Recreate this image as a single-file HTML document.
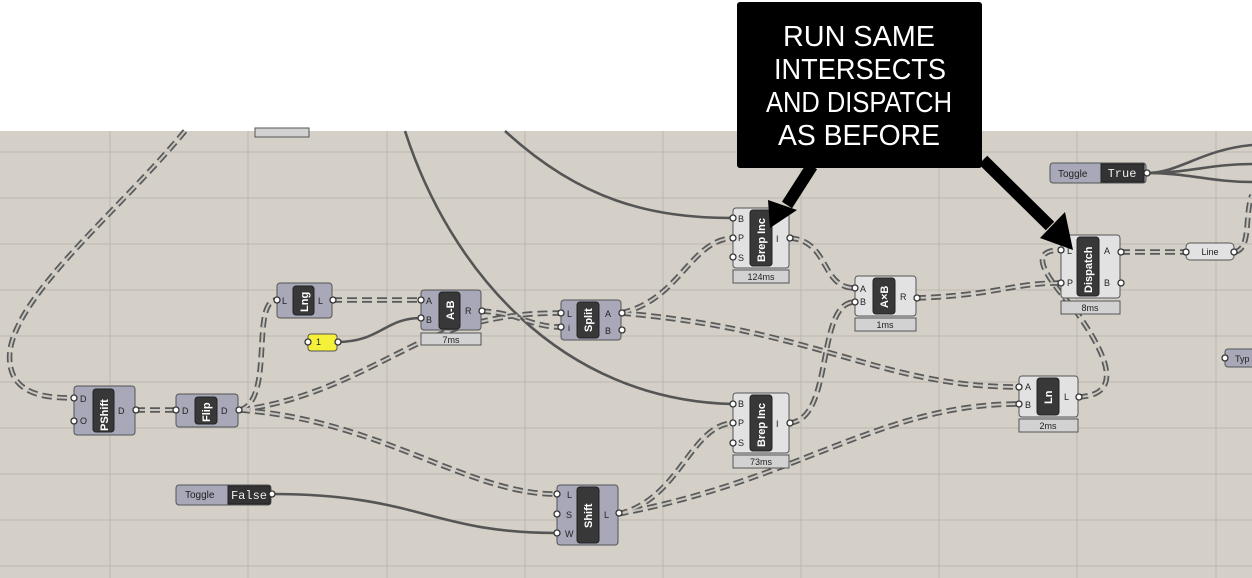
<!DOCTYPE html>
<html><head><meta charset="utf-8"><style>
html,body{margin:0;padding:0;background:#fff;}
svg{display:block;font-family:"Liberation Sans",sans-serif;}
.lbl{font-size:9px;fill:#222;}
.nm{font-size:11px;font-weight:bold;fill:#fff;}
.tm{font-size:9px;fill:#222;}
.dw{fill:none;stroke:#5a5a5a;stroke-width:5.5;stroke-dasharray:10 5;}
.dwi{fill:none;stroke:#c8c6c0;stroke-width:2;stroke-dasharray:10 5;}
.sw{fill:none;stroke:#555;stroke-width:2.6;}
.port{fill:#fff;stroke:#333;stroke-width:1.3;}
.cg{fill:#a8a8b8;stroke:#555;stroke-width:1;}
.cl{fill:#e2e2e2;stroke:#555;stroke-width:1;}
.bar{fill:#383838;stroke:#222;stroke-width:1;}
.tmr{fill:#d2d2d2;stroke:#555;stroke-width:1;}
</style></head><body>
<svg width="1252" height="578" viewBox="0 0 1252 578" xmlns="http://www.w3.org/2000/svg">
<rect x="0" y="0" width="1252" height="131" fill="#fff"/>
<rect x="0" y="131" width="1252" height="447" fill="#d4d0c8"/>
<g stroke="#bcb8b0" stroke-width="1">
<line x1="110" y1="131" x2="110" y2="578"/><line x1="248" y1="131" x2="248" y2="578"/><line x1="387" y1="131" x2="387" y2="578"/><line x1="525" y1="131" x2="525" y2="578"/><line x1="663" y1="131" x2="663" y2="578"/><line x1="801" y1="131" x2="801" y2="578"/><line x1="939" y1="131" x2="939" y2="578"/><line x1="1077" y1="131" x2="1077" y2="578"/><line x1="1216" y1="131" x2="1216" y2="578"/>
<line x1="0" y1="152" x2="1252" y2="152"/><line x1="0" y1="198" x2="1252" y2="198"/><line x1="0" y1="244" x2="1252" y2="244"/><line x1="0" y1="290" x2="1252" y2="290"/><line x1="0" y1="336" x2="1252" y2="336"/><line x1="0" y1="382" x2="1252" y2="382"/><line x1="0" y1="428" x2="1252" y2="428"/><line x1="0" y1="474" x2="1252" y2="474"/><line x1="0" y1="520" x2="1252" y2="520"/><line x1="0" y1="566" x2="1252" y2="566"/>
</g>
<rect x="255" y="128" width="54" height="9" class="tmr"/>

<path class="sw" d="M337,342 C380,342 385,318 421,318"/>
<path class="sw" d="M405,131 C450,270 560,400 733,404"/>
<path class="sw" d="M505,131 C580,200 650,218 733,218"/>
<path class="sw" d="M271,494 C420,494 430,533 557,533"/>
<path class="sw" d="M1146,173 C1180,173 1200,150 1252,145"/>
<path class="sw" d="M1146,173 C1190,173 1210,164 1252,164"/>
<path class="sw" d="M1146,173 C1190,173 1210,182 1252,182"/>

<g class="dw">
<path class="dw" d="M185,131 C120,210 20,290 10,350 C5,395 45,398 74,398"/>
<path class="dw" d="M135,410 L176,410"/>
<path class="dw" d="M240,410 C275,400 250,300 277,300"/>
<path class="dw" d="M240,410 C320,400 380,360 430,338 C480,318 520,313 561,313"/>
<path class="dw" d="M481,311 C520,313 530,327 561,327"/>
<path class="dw" d="M240,410 C380,420 470,495 557,494"/>
<path class="dw" d="M332,300 L421,300"/>
<path class="dw" d="M621,313 C680,300 690,240 733,238"/>
<path class="dw" d="M621,313 C820,330 880,387 1019,387"/>
<path class="dw" d="M789,238 C830,240 820,288 855,288"/>
<path class="dw" d="M916,298 C1000,295 1010,283 1061,283"/>
<path class="dw" d="M618,514 C680,500 690,425 733,423"/>
<path class="dw" d="M618,514 C800,480 880,404 1019,404"/>
<path class="dw" d="M789,423 C835,420 815,302 855,302"/>
<path class="dw" d="M1078,397 C1130,395 1100,345 1075,310 C1040,270 1030,250 1061,250"/>
<path class="dw" d="M1120,252 L1186,252"/>
<path class="dw" d="M1234,252 C1252,250 1244,215 1252,195"/>
</g>
<g>
<path class="dwi" d="M185,131 C120,210 20,290 10,350 C5,395 45,398 74,398"/>
<path class="dwi" d="M135,410 L176,410"/>
<path class="dwi" d="M240,410 C275,400 250,300 277,300"/>
<path class="dwi" d="M240,410 C320,400 380,360 430,338 C480,318 520,313 561,313"/>
<path class="dwi" d="M481,311 C520,313 530,327 561,327"/>
<path class="dwi" d="M240,410 C380,420 470,495 557,494"/>
<path class="dwi" d="M332,300 L421,300"/>
<path class="dwi" d="M621,313 C680,300 690,240 733,238"/>
<path class="dwi" d="M621,313 C820,330 880,387 1019,387"/>
<path class="dwi" d="M789,238 C830,240 820,288 855,288"/>
<path class="dwi" d="M916,298 C1000,295 1010,283 1061,283"/>
<path class="dwi" d="M618,514 C680,500 690,425 733,423"/>
<path class="dwi" d="M618,514 C800,480 880,404 1019,404"/>
<path class="dwi" d="M789,423 C835,420 815,302 855,302"/>
<path class="dwi" d="M1078,397 C1130,395 1100,345 1075,310 C1040,270 1030,250 1061,250"/>
<path class="dwi" d="M1120,252 L1186,252"/>
<path class="dwi" d="M1234,252 C1252,250 1244,215 1252,195"/>
</g>

<rect x="74" y="386" width="61" height="49" rx="3" class="cg"/>
<rect x="93" y="389" width="21" height="43" rx="3" class="bar"/>
<text class="nm" transform="translate(108,431) rotate(-90)">PShift</text>
<text class="lbl" x="80" y="402">D</text><text class="lbl" x="80" y="424">O</text><text class="lbl" x="118" y="414">D</text>
<circle class="port" cx="74" cy="398" r="3"/><circle class="port" cx="74" cy="421" r="3"/><circle class="port" cx="136" cy="410" r="3"/>
<rect x="176" y="394" width="62" height="33" rx="3" class="cg"/>
<rect x="195" y="397" width="22" height="27" rx="3" class="bar"/>
<text class="nm" transform="translate(210,422) rotate(-90)">Flip</text>
<text class="lbl" x="182" y="414">D</text><text class="lbl" x="221" y="414">D</text>
<circle class="port" cx="176" cy="410" r="3"/><circle class="port" cx="239" cy="410" r="3"/>
<rect x="277" y="283" width="55" height="35" rx="3" class="cg"/>
<rect x="293" y="286" width="21" height="29" rx="3" class="bar"/>
<text class="nm" transform="translate(308,312) rotate(-90)">Lng</text>
<text class="lbl" x="282" y="304">L</text><text class="lbl" x="318" y="304">L</text>
<circle class="port" cx="277" cy="300" r="3"/><circle class="port" cx="333" cy="300" r="3"/>
<rect x="421" y="290" width="60" height="40" rx="3" class="cg"/>
<rect x="439" y="292" width="21" height="37" rx="3" class="bar"/>
<text class="nm" transform="translate(454,320) rotate(-90)">A-B</text>
<text class="lbl" x="426" y="304">A</text><text class="lbl" x="426" y="323">B</text><text class="lbl" x="465" y="314">R</text>
<circle class="port" cx="421" cy="300" r="3"/><circle class="port" cx="421" cy="318" r="3"/><circle class="port" cx="482" cy="311" r="3"/>
<rect x="421" y="333" width="60" height="12" class="tmr"/><text class="tm" x="451" y="343" text-anchor="middle">7ms</text>
<rect x="308" y="334" width="29" height="17" rx="3" fill="#f5f03a" stroke="#555"/>
<text class="tm" x="316" y="345">1</text>
<circle class="port" cx="308" cy="342" r="3"/><circle class="port" cx="338" cy="342" r="3"/>
<rect x="561" y="300" width="60" height="40" rx="3" class="cg"/>
<rect x="577" y="302" width="22" height="36" rx="3" class="bar"/>
<text class="nm" transform="translate(592,332) rotate(-90)">Split</text>
<text class="lbl" x="567" y="317">L</text><text class="lbl" x="568" y="331">i</text><text class="lbl" x="605" y="317">A</text><text class="lbl" x="605" y="334">B</text>
<circle class="port" cx="561" cy="313" r="3"/><circle class="port" cx="561" cy="327" r="3"/><circle class="port" cx="622" cy="313" r="3"/><circle class="port" cx="622" cy="330" r="3"/>
<rect x="733" y="208" width="56" height="60" rx="3" class="cl"/>
<rect x="750" y="210" width="22" height="56" rx="3" class="bar"/>
<text class="nm" transform="translate(765,262) rotate(-90)">Brep Inc</text>
<text class="lbl" x="738" y="222">B</text><text class="lbl" x="738" y="241">P</text><text class="lbl" x="738" y="261">S</text><text class="lbl" x="776" y="242">I</text>
<circle class="port" cx="733" cy="218" r="3"/><circle class="port" cx="733" cy="238" r="3"/><circle class="port" cx="733" cy="257" r="3"/><circle class="port" cx="790" cy="238" r="3"/>
<rect x="733" y="270" width="56" height="13" class="tmr"/><text class="tm" x="761" y="280" text-anchor="middle">124ms</text>
<rect x="733" y="393" width="56" height="60" rx="3" class="cl"/>
<rect x="750" y="395" width="22" height="56" rx="3" class="bar"/>
<text class="nm" transform="translate(765,447) rotate(-90)">Brep Inc</text>
<text class="lbl" x="738" y="407">B</text><text class="lbl" x="738" y="426">P</text><text class="lbl" x="738" y="446">S</text><text class="lbl" x="776" y="427">I</text>
<circle class="port" cx="733" cy="404" r="3"/><circle class="port" cx="733" cy="423" r="3"/><circle class="port" cx="733" cy="443" r="3"/><circle class="port" cx="790" cy="423" r="3"/>
<rect x="733" y="455" width="56" height="13" class="tmr"/><text class="tm" x="761" y="465" text-anchor="middle">73ms</text>
<rect x="855" y="276" width="61" height="40" rx="3" class="cl"/>
<rect x="873" y="278" width="22" height="36" rx="3" class="bar"/>
<text class="nm" transform="translate(888,308) rotate(-90)">A×B</text>
<text class="lbl" x="860" y="292">A</text><text class="lbl" x="860" y="305">B</text><text class="lbl" x="900" y="300">R</text>
<circle class="port" cx="855" cy="288" r="3"/><circle class="port" cx="855" cy="302" r="3"/><circle class="port" cx="917" cy="298" r="3"/>
<rect x="855" y="318" width="61" height="13" class="tmr"/><text class="tm" x="885" y="328" text-anchor="middle">1ms</text>
<rect x="1061" y="235" width="59" height="63" rx="3" class="cl"/>
<rect x="1077" y="237" width="22" height="59" rx="3" class="bar"/>
<text class="nm" transform="translate(1092,293) rotate(-90)">Dispatch</text>
<text class="lbl" x="1067" y="254">L</text><text class="lbl" x="1067" y="286">P</text><text class="lbl" x="1104" y="254">A</text><text class="lbl" x="1104" y="286">B</text>
<circle class="port" cx="1061" cy="250" r="3"/><circle class="port" cx="1061" cy="283" r="3"/><circle class="port" cx="1121" cy="252" r="3"/><circle class="port" cx="1121" cy="283" r="3"/>
<rect x="1061" y="301" width="59" height="13" class="tmr"/><text class="tm" x="1090" y="311" text-anchor="middle">8ms</text>
<rect x="1019" y="376" width="59" height="41" rx="3" class="cl"/>
<rect x="1037" y="378" width="22" height="37" rx="3" class="bar"/>
<text class="nm" transform="translate(1052,404) rotate(-90)">Ln</text>
<text class="lbl" x="1025" y="390">A</text><text class="lbl" x="1025" y="408">B</text><text class="lbl" x="1064" y="400">L</text>
<circle class="port" cx="1019" cy="387" r="3"/><circle class="port" cx="1019" cy="404" r="3"/><circle class="port" cx="1079" cy="397" r="3"/>
<rect x="1019" y="419" width="59" height="13" class="tmr"/><text class="tm" x="1048" y="429" text-anchor="middle">2ms</text>
<rect x="557" y="485" width="61" height="60" rx="3" class="cg"/>
<rect x="577" y="487" width="22" height="56" rx="3" class="bar"/>
<text class="nm" transform="translate(592,528) rotate(-90)">Shift</text>
<text class="lbl" x="567" y="498">L</text><text class="lbl" x="566" y="518">S</text><text class="lbl" x="565" y="537">W</text><text class="lbl" x="604" y="518">L</text>
<circle class="port" cx="557" cy="494" r="3"/><circle class="port" cx="557" cy="514" r="3"/><circle class="port" cx="557" cy="533" r="3"/><circle class="port" cx="619" cy="513" r="3"/>
<rect x="176" y="485" width="95" height="20" rx="3" class="cg"/>
<text class="lbl" x="185" y="498" style="font-size:10px">Toggle</text>
<rect x="228" y="486" width="42" height="18" fill="#333" stroke="#222"/>
<text x="249" y="499" text-anchor="middle" style="font-family:'Liberation Mono',monospace;font-size:12px;fill:#eee">False</text>
<circle class="port" cx="272" cy="494" r="3"/>
<rect x="1050" y="163" width="96" height="20" rx="3" class="cg"/>
<text class="lbl" x="1058" y="177" style="font-size:10px">Toggle</text>
<rect x="1101" y="164" width="43" height="18" fill="#333" stroke="#222"/>
<text x="1122" y="177" text-anchor="middle" style="font-family:'Liberation Mono',monospace;font-size:12px;fill:#eee">True</text>
<circle class="port" cx="1147" cy="173" r="3"/>
<rect x="1186" y="243" width="48" height="17" rx="4" fill="#e2e2e2" stroke="#555"/>
<text class="lbl" x="1210" y="255" text-anchor="middle">Line</text>
<circle class="port" cx="1186" cy="252" r="3"/><circle class="port" cx="1234" cy="252" r="3"/>
<rect x="1225" y="349" width="40" height="18" rx="3" class="cg"/>
<text class="lbl" x="1235" y="362">Typ</text>
<circle class="port" cx="1225" cy="358" r="3"/>

<rect x="737" y="2" width="245" height="166" rx="3" fill="#000"/>
<g fill="#fff" font-size="29" text-anchor="middle">
<text x="859" y="46" textLength="152" lengthAdjust="spacingAndGlyphs">RUN SAME</text>
<text x="860" y="79" textLength="172" lengthAdjust="spacingAndGlyphs">INTERSECTS</text>
<text x="859" y="112" textLength="186" lengthAdjust="spacingAndGlyphs">AND DISPATCH</text>
<text x="859" y="145" textLength="162" lengthAdjust="spacingAndGlyphs">AS BEFORE</text>
</g>
<line x1="812" y1="166" x2="787" y2="205" stroke="#000" stroke-width="12"/>
<polygon points="770,228 768,200 797,210" fill="#000"/>
<line x1="983" y1="160" x2="1050" y2="226" stroke="#000" stroke-width="12"/>
<polygon points="1073,250 1040,238 1065,212" fill="#000"/>
</svg>
</body></html>
